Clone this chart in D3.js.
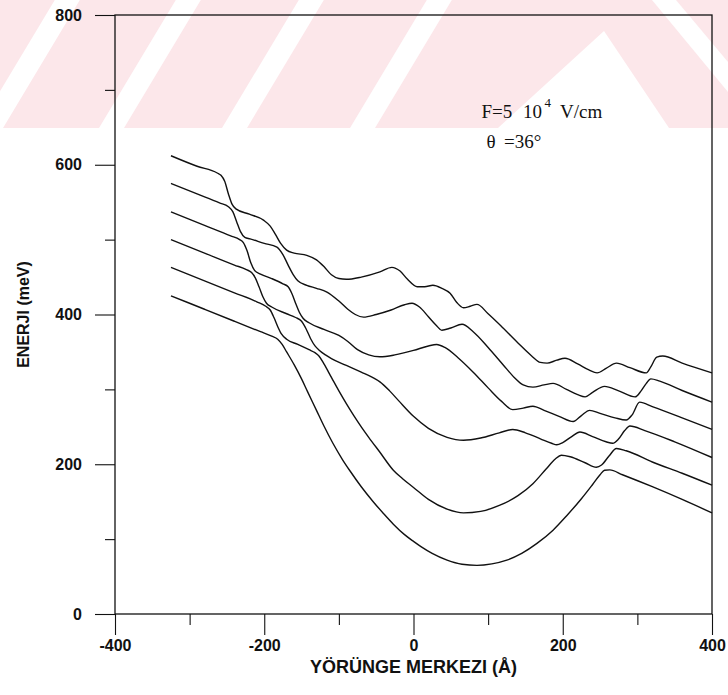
<!DOCTYPE html>
<html>
<head>
<meta charset="utf-8">
<script src="https://cdn.jsdelivr.net/npm/d3@7"></script>
<style>
  html, body { margin: 0; padding: 0; background: #fff; }
  svg { display: block; }
</style>
</head>
<body>
<svg id="chart" width="728" height="695"></svg>
<script>
// Axis ticks: orbit centre X0 in Å, energy in meV
const xMajorTicks = [-400, -200, 0, 200, 400];
const xMinorTicks = [-300, -100, 100, 300];
const yMajorTicks = [0, 200, 400, 600, 800];
const yMinorTicks = [100, 300, 500, 700];

// Energy levels [X0 (Å), E (meV)], lowest level first
const level1 = [[-325,425],[-280,407],[-240,391],[-205,377],[-190,371],[-182,367],[-176,360],[-170,350],[-160,333],[-150,314],[-142,297],[-130,272],[-120,251],[-108,228],[-95,206],[-85,191],[-70,170],[-54,150],[-40,134],[-27,120],[-12,106],[0,97],[10,90],[25,81],[45,72],[65,66.5],[85,65],[105,67],[125,72],[145,81],[165,94],[187,112],[205,131],[225,154],[240,173],[250,186],[256,192],[263,192.5],[280,186],[320,170],[360,153],[400,135]];
const level2 = [[-325,463],[-280,445],[-240,429],[-210,417],[-198,411],[-192,406],[-187,396],[-182,384],[-177,374],[-170,367],[-155,360],[-140,353],[-132,349],[-127,345],[-120,334],[-110,316],[-100,298],[-90,281],[-80,265],[-70,250],[-60,236],[-45,216],[-27,192],[-15,181],[0,169],[20,153],[45,140],[67,135],[90,137],[115,145],[140,158],[160,174],[178,194],[190,207],[198,212],[210,210],[230,202],[245,196],[252,199],[262,211],[272,221],[285,218],[320,203],[360,188],[400,172]];
const level3 = [[-325,500],[-280,482],[-240,466],[-224,460],[-217,456],[-212,449],[-207,437],[-202,424],[-197,415],[-190,410],[-170,401],[-158,396],[-150,391],[-144,381],[-138,368],[-132,358],[-126,352],[-118,346],[-110,341],[-90,332],[-70,323],[-55,316],[-45,310],[-32,298],[-20,285],[0,264],[20,248],[45,236],[67,232],[90,235],[115,242],[133,246.5],[150,242],[170,234],[185,228],[192,226],[200,229],[212,237],[223,243],[240,237],[258,230],[267,228],[275,234],[283,245],[290,251],[310,245],[350,230],[400,209]];
const level4 = [[-325,537],[-280,519],[-245,505],[-233,500],[-228,496],[-223,485],[-218,469],[-213,459],[-205,454],[-190,448],[-175,441],[-168,437],[-163,428],[-158,415],[-153,403],[-148,395],[-140,389],[-120,380],[-100,372],[-88,364],[-75,353],[-60,346],[-45,343.5],[-25,346],[0,352],[20,358],[31,360],[42,356],[60,342],[80,323],[100,302],[118,284],[133,273],[147,275],[160,277.5],[175,272],[195,264],[214,257],[225,265],[236,272],[250,268],[270,262],[285,259],[293,266],[303,283],[320,277],[360,262],[400,246.5]];
const level5 = [[-325,575],[-290,561],[-260,549],[-248,544],[-242,537],[-237,524],[-232,511],[-226,503],[-219,501],[-200,495],[-183,490],[-175,480],[-168,466],[-161,453],[-155,445],[-143,439],[-130,435],[-116,430],[-100,418],[-88,407],[-78,400],[-67,396.5],[-50,400],[-30,406],[-12,413],[-2,415],[8,410],[20,397],[30,386],[38,379],[50,382],[65,387],[80,377],[100,356],[120,333],[135,316],[147,306],[160,303],[175,306],[187,308],[205,300],[220,293],[230,290],[240,296],[256,304],[275,298],[297,290],[305,298],[312,308],[318,314],[330,311],[360,298.5],[400,283]];
const level6 = [[-325,612],[-290,598],[-263,589],[-258,586],[-253,578],[-248,561],[-243,547],[-238,541],[-220,534],[-201,526],[-192,518],[-185,507],[-178,495],[-170,486],[-160,482],[-143,479],[-130,473],[-120,464],[-110,453],[-100,448],[-90,447],[-70,450],[-45,457],[-29,463],[-18,458],[-8,447],[5,437],[15,437],[26,439],[38,435],[49,428.5],[58,416],[67,409],[76,411],[85,413.5],[100,401],[120,382],[140,362],[158,345],[170,336],[179,335],[192,339],[203,341.5],[220,334],[235,326],[246,322],[258,328],[272,335],[290,329],[312,322],[318,330],[326,343],[334,344.5],[360,335],[400,322]];

const levels = [level1, level2, level3, level4, level5, level6];

const svg = d3.select("#chart");
const W = 728;

const x = d3.scaleLinear().domain([-400, 400]).range([115, 712]);
const y = d3.scaleLinear().domain([0, 800]).range([614, 15]);

// Faint diagonal-stripe banner across the top of the page
const band = svg.append("g").attr("class", "banner");
const bandH = 128;
band.append("rect").attr("x", 0).attr("y", 0).attr("width", W).attr("height", bandH).attr("fill", "#fce7ea");
const stripeStarts = [-22, 99, 222, 350];
const lean = 0.6, stripeW = 25;
band.selectAll("polygon.stripe").data(stripeStarts).join("polygon")
  .attr("class", "stripe")
  .attr("fill", "#fff")
  .attr("points", b => [[b, bandH], [b + stripeW, bandH], [b + stripeW + lean * bandH, 0], [b + lean * bandH, 0]].map(p => p.join(",")).join(" "));
band.append("polygon").attr("fill", "#fff")
  .attr("points", [[498, bandH], [604, 31], [669, bandH]].map(p => p.join(",")).join(" "));
band.append("polygon").attr("fill", "#fff")
  .attr("points", [[652, 0], [676, 0], [728, 62], [728, 92]].map(p => p.join(",")).join(" "));

const tickFont = "'Liberation Sans', Arial, sans-serif";

// y axis: long outer ticks with labels, short minor ticks
const gyMajor = svg.append("g").attr("transform", `translate(${x(-400)},0)`)
  .call(d3.axisLeft(y).tickValues(yMajorTicks).tickSize(20).tickSizeOuter(0).tickPadding(13).tickFormat(d => String(d)));
const gyMinor = svg.append("g").attr("transform", `translate(${x(-400)},0)`)
  .call(d3.axisLeft(y).tickValues(yMinorTicks).tickSize(10).tickSizeOuter(0).tickFormat(""));

// x axis along E = 0
const gxMajor = svg.append("g").attr("transform", `translate(0,${y(0)})`)
  .call(d3.axisBottom(x).tickValues(xMajorTicks).tickSize(21).tickSizeOuter(0).tickPadding(5).tickFormat(d => String(d)));
const gxMinor = svg.append("g").attr("transform", `translate(0,${y(0)})`)
  .call(d3.axisBottom(x).tickValues(xMinorTicks).tickSize(11).tickSizeOuter(0).tickFormat(""));

[gyMajor, gyMinor, gxMajor, gxMinor].forEach(g => {
  g.select(".domain").remove();
  g.selectAll(".tick line").attr("stroke", "#111").attr("stroke-width", 1.1);
  g.selectAll(".tick text")
    .attr("fill", "#111")
    .style("font-family", tickFont)
    .style("font-weight", "bold")
    .style("font-size", "16px");
});

// Plot frame
svg.append("rect")
  .attr("x", x(-400)).attr("y", y(800))
  .attr("width", x(400) - x(-400)).attr("height", y(0) - y(800))
  .attr("fill", "none").attr("stroke", "#111").attr("stroke-width", 1.3);

// Energy levels
const line = d3.line()
  .x(d => x(d[0]))
  .y(d => y(d[1]))
  .curve(d3.curveMonotoneX);

svg.append("g").selectAll("path.level").data(levels).join("path")
  .attr("class", "level")
  .attr("d", line)
  .attr("fill", "none")
  .attr("stroke", "#111")
  .attr("stroke-width", 1.4)
  .attr("stroke-linejoin", "round");

// Axis titles
svg.append("text")
  .attr("x", x(0)).attr("y", 673)
  .attr("text-anchor", "middle")
  .style("font-family", tickFont).style("font-weight", "bold").style("font-size", "18px")
  .attr("fill", "#111")
  .text("YÖRÜNGE MERKEZI (Å)");

svg.append("text")
  .attr("transform", `translate(29,${(y(0) + y(800)) / 2}) rotate(-90)`)
  .attr("text-anchor", "middle")
  .style("font-family", tickFont).style("font-weight", "bold").style("font-size", "16px")
  .attr("fill", "#111")
  .text("ENERJI (meV)");

// Field and angle annotation
const serif = "'Liberation Serif', 'Times New Roman', serif";
const note = svg.append("g").attr("fill", "#111").style("font-family", serif).style("font-size", "19px");
note.append("text").attr("x", 481.5).attr("y", 118).text("F=5");
note.append("text").attr("x", 523).attr("y", 118).text("10");
note.append("text").attr("x", 544.5).attr("y", 107).style("font-size", "13px").text("4");
note.append("text").attr("x", 560).attr("y", 118).text("V/cm");
note.append("text").attr("x", 486.5).attr("y", 148).text("θ");
note.append("text").attr("x", 504).attr("y", 148).text("=36°");
</script>
</body>
</html>
